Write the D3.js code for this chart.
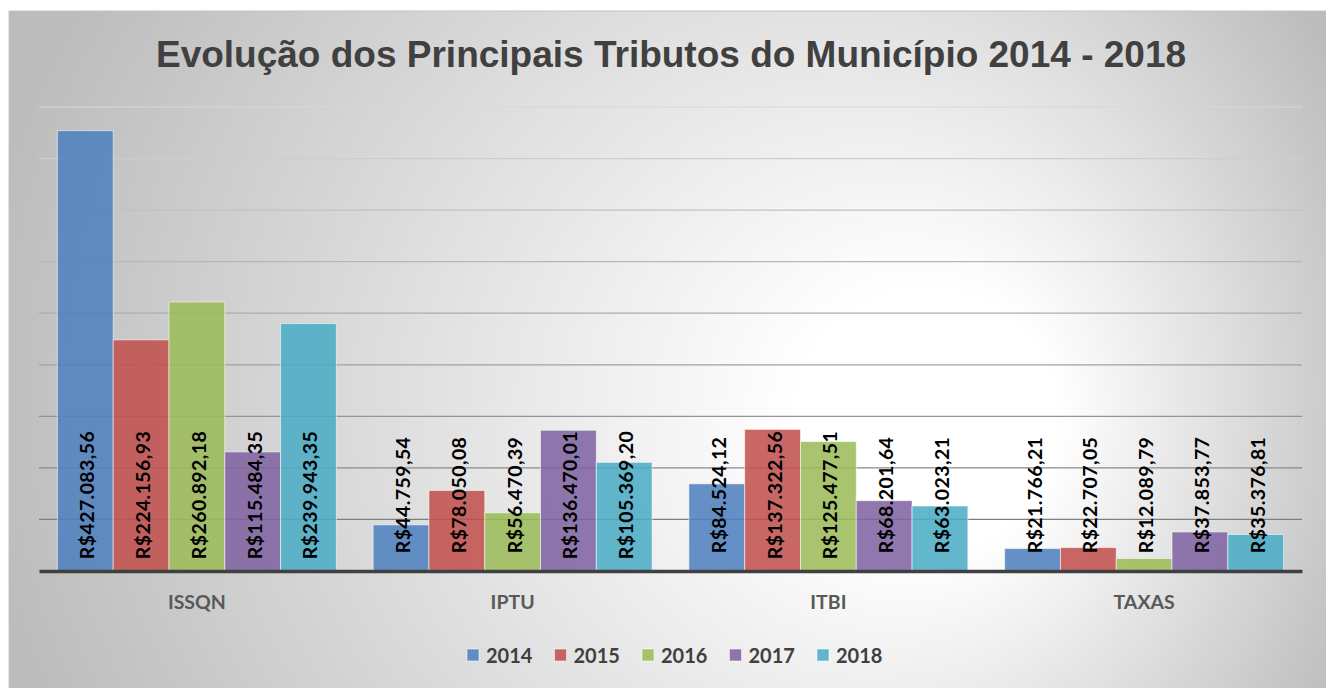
<!DOCTYPE html>
<html>
<head>
<meta charset="utf-8">
<script src="https://cdn.jsdelivr.net/npm/d3@7"></script>
<style>
  html, body { margin: 0; padding: 0; background: #ffffff; }
  svg { display: block; }
</style>
</head>
<body>
<script>
// ---- Data ----
const categories = ["ISSQN", "IPTU", "ITBI", "TAXAS"];
const years = ["2014", "2015", "2016", "2017", "2018"];
const values2014 = [427083.56, 44759.54, 84524.12, 21766.21];
const values2015 = [224156.93, 78050.08, 137322.56, 22707.05];
const values2016 = [260892.18, 56470.39, 125477.51, 12089.79];
const values2017 = [115484.35, 136470.01, 68201.64, 37853.77];
const values2018 = [239943.35, 105369.20, 63023.21, 35376.81];
const gridTicks = [50000, 100000, 150000, 200000, 250000, 300000, 350000, 400000, 450000];
const titleText = "Evolução dos Principais Tributos do Município 2014 - 2018";

const seriesValues = [values2014, values2015, values2016, values2017, values2018];
const colors = ["#4F81BD", "#C0504D", "#9BBB59", "#8064A2", "#4BACC6"];

const W = 1326, H = 688;
const svg = d3.select("body").append("svg").attr("width", W).attr("height", H);

// background gradient
const defs = svg.append("defs");
const rg = defs.append("radialGradient").attr("id", "bg")
  .attr("gradientUnits", "userSpaceOnUse")
  .attr("cx", 690).attr("cy", 380).attr("r", 720)
  .attr("fx", 980).attr("fy", 430);
rg.append("stop").attr("offset", 0).attr("stop-color", "#ffffff");
rg.append("stop").attr("offset", 0.18).attr("stop-color", "#ffffff");
rg.append("stop").attr("offset", 1).attr("stop-color", "#bcbcbc");

svg.append("rect").attr("x", 9).attr("y", 11).attr("width", W - 9 + 5).attr("height", H - 11 + 5)
  .attr("fill", "url(#bg)").attr("stroke", "#c4c4c4").attr("stroke-width", 1);

// scales
const plotL = 39, plotR = 1302, plotB = 571, plotT = 107;
const y = d3.scaleLinear().domain([0, 450000]).range([plotB, plotT]);
const x0 = d3.scaleBand().domain(categories).range([plotL, plotR]).padding(0);
const x1 = d3.scaleBand().domain(years).range([0, x0.bandwidth()]).paddingInner(0).paddingOuter(0.33);

// gridlines
const gridColor = d3.interpolateRgb("#d8d8d8", "#7f7f7f");
svg.append("g").selectAll("line").data(gridTicks).join("line")
  .attr("x1", plotL).attr("x2", plotR)
  .attr("y1", d => y(d)).attr("y2", d => y(d))
  .attr("stroke", d => gridColor((450000 - d) / 400000))
  .attr("stroke-width", 1.2);

// bars
const barData = [];
categories.forEach((c, i) => years.forEach((yr, j) => barData.push({ cat: c, year: yr, value: seriesValues[j][i], color: colors[j] })));

svg.append("g").selectAll("rect").data(barData).join("rect")
  .attr("x", d => x0(d.cat) + x1(d.year))
  .attr("y", d => y(d.value))
  .attr("width", x1.bandwidth())
  .attr("height", d => y(0) - y(d.value))
  .attr("fill", d => d.color)
  .attr("fill-opacity", 0.87)
  .attr("stroke", "#ffffff")
  .attr("stroke-opacity", 0.55)
  .attr("stroke-width", 1);

// axis line
const xAxis = d3.axisBottom(x0).tickSize(0).tickPadding(24);
const ax = svg.append("g").attr("transform", `translate(0,${plotB})`).call(xAxis);
ax.select(".domain").attr("stroke", "#404040").attr("stroke-width", 3.5);
ax.selectAll("text")
  .attr("font-family", "Lato, 'Open Sans', sans-serif")
  .attr("font-weight", "bold")
  .attr("font-size", 19.5)
  .attr("fill", "#595959");

// value labels
const fmt = d3.formatLocale({ decimal: ",", thousands: ".", grouping: [3], currency: ["R$", ""] }).format("$,.2f");
const labelOffset = 76;
svg.append("g").selectAll("text").data(barData).join("text")
  .attr("transform", d => `translate(${x0(d.cat) + x1(d.year) + x1.bandwidth() / 2 + 1.5},${plotB - labelOffset}) rotate(-90)`)
  .attr("text-anchor", "middle")
  .attr("dominant-baseline", "central")
  .attr("font-family", "Lato, 'Open Sans', sans-serif")
  .attr("font-weight", "bold")
  .attr("font-size", 19.5)
  .attr("letter-spacing", 0.4)
  .attr("fill", "#000000")
  .text(d => fmt(d.value));

// title
svg.append("text")
  .attr("x", 671).attr("y", 67)
  .attr("text-anchor", "middle")
  .attr("font-family", "'Liberation Sans', Arial, sans-serif")
  .attr("font-weight", "bold")
  .attr("font-size", 37)
  .attr("fill", "#404040")
  .text(titleText);

// legend
const legend = svg.append("g");
const legItems = legend.selectAll("g").data(years).join("g")
  .attr("transform", (d, i) => `translate(${467 + i * 87.5},0)`);
legItems.append("rect").attr("x", 0).attr("y", 649).attr("width", 12).attr("height", 12)
  .attr("fill", (d, i) => colors[i]).attr("fill-opacity", 0.87)
  .attr("stroke", "#ffffff").attr("stroke-opacity", 0.55);
legItems.append("text").attr("x", 19).attr("y", 663)
  .attr("font-family", "Lato, 'Open Sans', sans-serif")
  .attr("font-weight", "bold")
  .attr("font-size", 20)
  .attr("fill", "#404040")
  .text(d => d);
</script>
</body>
</html>
